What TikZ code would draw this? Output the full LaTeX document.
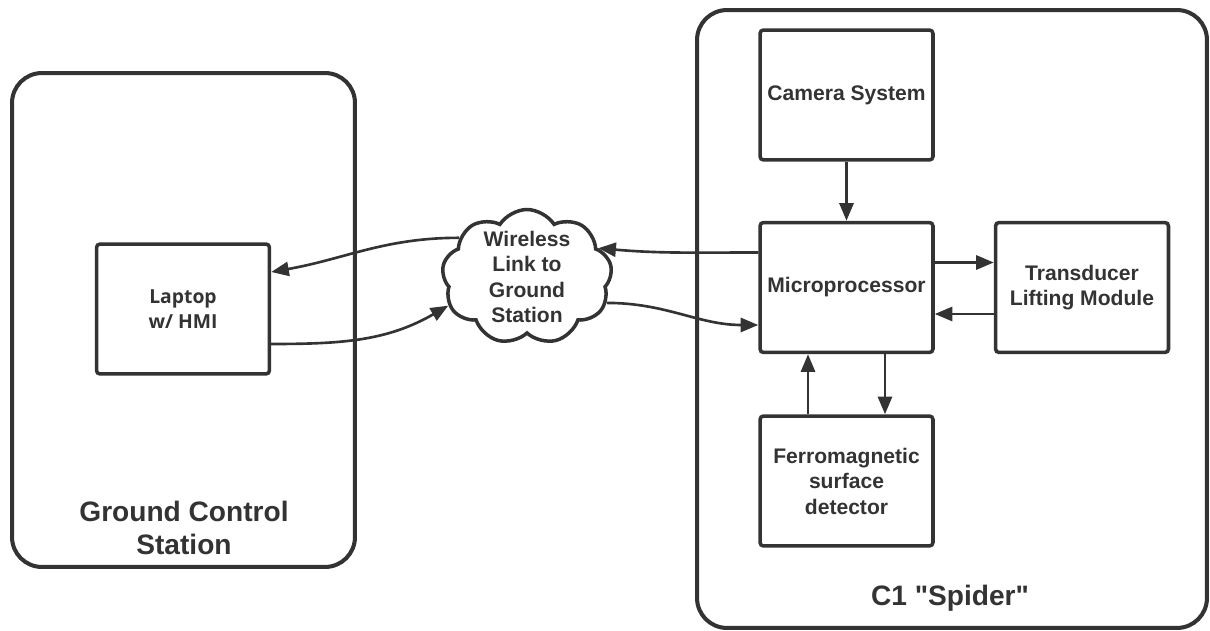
\documentclass[tikz,border=0pt]{standalone}
\usepackage{fontspec}
\setmainfont{Liberation Sans}
\newfontfamily\laptopfont{Open Sans}
\usetikzlibrary{shapes.symbols,arrows.meta}
\definecolor{ink}{HTML}{333333}

\begin{document}
\begin{tikzpicture}[x=0.02cm,y=-0.02cm,
  block/.style={draw=ink, line width=2pt, rounded corners=2pt,
    minimum width=3.46cm, minimum height=2.6cm, inner sep=2pt,
    align=center, text=ink, font=\bfseries\fontsize{12}{14.5}\selectfont},
  frame/.style={draw=ink, line width=2.3pt, rounded corners=17pt},
  title/.style={text=ink, align=center, font=\bfseries\fontsize{16}{19}\selectfont},
  link/.style={draw=ink, line width=1.5pt, -{Triangle[length=10pt,width=8pt]}}
]
  \useasboundingbox (0,0) rectangle (1210,631);

  % outer frames
  \node[frame, minimum width=6.86cm, minimum height=9.88cm] (gcs) at (183.5,320) {};
  \node[frame, minimum width=10.2cm, minimum height=12.36cm] (c1) at (952,319) {};
  \node[title] (gcslbl) at (184,528) {Ground Control\\Station};
  \node[title] (c1lbl) at (950,598) {C1 \textquotedbl Spider\textquotedbl};

  % blocks
  \node[block, font=\laptopfont\bfseries\fontsize{11}{14.5}\selectfont] (lap) at (183,309) {Laptop\\w/ HMI};
  \node[block] (cam) at (846.5,95) {Camera System};
  \node[block] (mpu) at (846.5,287.5) {Microprocessor};
  \node[block] (tlm) at (1082,287.5) {Transducer\\Lifting Module};
  \node[block] (fsd) at (846.5,481) {Ferromagnetic\\surface\\detector};

  \node[cloud, cloud puffs=9, cloud puff arc=115, aspect=1.3, draw=ink, line width=2pt,
    minimum width=3.4cm, minimum height=2.7cm, inner sep=-4pt,
    align=center, text=ink, font=\bfseries\fontsize{12}{14.5}\selectfont]
    (wl) at (527,277) {Wireless\\Link to\\Ground\\Station};

  % links
  \draw[link] (cam) -- (mpu);
  \draw[link] ([yshift=0.5cm]mpu.east) -- ([yshift=0.5cm]tlm.west);
  \draw[link] ([yshift=-0.53cm]tlm.west) -- ([yshift=-0.53cm]mpu.east);
  \draw[link] ([xshift=-0.77cm]fsd.north) -- ([xshift=-0.77cm]mpu.south);
  \draw[link] ([xshift=0.77cm]mpu.south) -- ([xshift=0.77cm]fsd.north);

  \draw[link] ([yshift=0.7cm]mpu.west) to[out=180,in=-5] (wl.22);
  \draw[link] (wl.-18) to[out=0,in=180] ([yshift=-0.75cm]mpu.west);
  \draw[link] (wl.150) to[out=180,in=10] ([yshift=0.74cm]lap.east);
  \draw[link] ([yshift=-0.7cm]lap.east) to[out=0,in=210] (wl.200);
\end{tikzpicture}
\end{document}
